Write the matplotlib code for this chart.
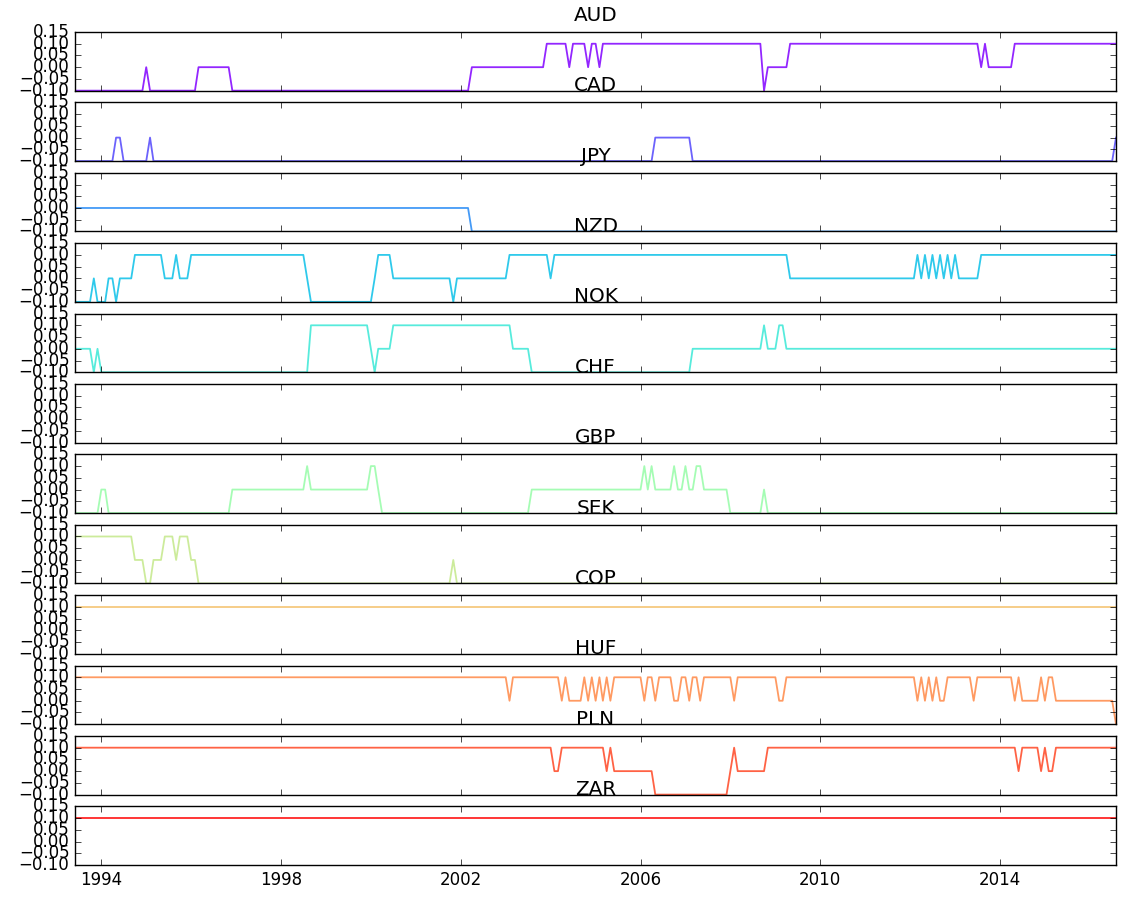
import numpy as np
import pandas as pd
import matplotlib
matplotlib.use('Agg')
from matplotlib import pyplot as plt
import matplotlib.dates as mdates

# monthly signal per currency, stored as (month, value) change points
AUD = [('1993-05', -0.1), ('1994-12', 0.0), ('1995-01', -0.1), ('1996-02', 0.0), ('1996-11', -0.1),
       ('2002-03', 0.0), ('2003-11', 0.1), ('2004-05', 0.0), ('2004-06', 0.1), ('2004-10', 0.0),
       ('2004-11', 0.1), ('2005-01', 0.0), ('2005-02', 0.1), ('2008-09', -0.1), ('2008-10', 0.0),
       ('2009-04', 0.1), ('2013-07', 0.0), ('2013-08', 0.1), ('2013-09', 0.0), ('2014-04', 0.1)]
CAD = [('1993-05', -0.1), ('1994-04', 0.0), ('1994-06', -0.1), ('1995-01', 0.0), ('1995-02', -0.1),
       ('2006-04', 0.0), ('2007-02', -0.1), ('2016-07', 0.0)]
JPY = [('1993-05', 0.0), ('2002-03', -0.1)]
NZD = [('1993-05', -0.1), ('1993-10', 0.0), ('1993-11', -0.1), ('1994-02', 0.0), ('1994-04', -0.1),
       ('1994-05', 0.0), ('1994-09', 0.1), ('1995-05', 0.0), ('1995-08', 0.1), ('1995-09', 0.0),
       ('1995-12', 0.1), ('1998-07', 0.0), ('1998-08', -0.1), ('2000-01', 0.0), ('2000-02', 0.1),
       ('2000-06', 0.0), ('2001-10', -0.1), ('2001-11', 0.0), ('2003-01', 0.1), ('2003-12', 0.0),
       ('2004-01', 0.1), ('2009-04', 0.0), ('2012-02', 0.1), ('2012-03', 0.0), ('2012-04', 0.1),
       ('2012-05', 0.0), ('2012-06', 0.1), ('2012-07', 0.0), ('2012-08', 0.1), ('2012-09', 0.0),
       ('2012-10', 0.1), ('2012-11', 0.0), ('2012-12', 0.1), ('2013-01', 0.0), ('2013-07', 0.1)]
NOK = [('1993-05', 0.0), ('1993-10', -0.1), ('1993-11', 0.0), ('1993-12', -0.1), ('1998-08', 0.1),
       ('1999-12', 0.0), ('2000-01', -0.1), ('2000-02', 0.0), ('2000-06', 0.1), ('2003-02', 0.0),
       ('2003-07', -0.1), ('2007-02', 0.0), ('2008-09', 0.1), ('2008-10', 0.0), ('2009-01', 0.1),
       ('2009-03', 0.0)]
CHF = []
GBP = [('1993-05', -0.1), ('1993-12', 0.0), ('1994-02', -0.1), ('1996-11', 0.0), ('1998-07', 0.1),
       ('1998-08', 0.0), ('1999-12', 0.1), ('2000-02', 0.0), ('2000-03', -0.1), ('2003-07', 0.0),
       ('2006-01', 0.1), ('2006-02', 0.0), ('2006-03', 0.1), ('2006-04', 0.0), ('2006-09', 0.1),
       ('2006-10', 0.0), ('2006-12', 0.1), ('2007-01', 0.0), ('2007-03', 0.1), ('2007-05', 0.0),
       ('2007-12', -0.1), ('2008-09', 0.0), ('2008-10', -0.1)]
SEK = [('1993-05', 0.1), ('1994-09', 0.0), ('1994-12', -0.1), ('1995-02', 0.0), ('1995-05', 0.1),
       ('1995-08', 0.0), ('1995-09', 0.1), ('1995-12', 0.0), ('1996-02', -0.1), ('2001-10', 0.0),
       ('2001-11', -0.1)]
COP = [('1993-05', 0.1)]
HUF = [('1993-05', 0.1), ('2003-01', 0.0), ('2003-02', 0.1), ('2004-03', 0.0), ('2004-04', 0.1),
       ('2004-05', 0.0), ('2004-09', 0.1), ('2004-10', 0.0), ('2004-11', 0.1), ('2004-12', 0.0),
       ('2005-01', 0.1), ('2005-02', 0.0), ('2005-03', 0.1), ('2005-04', 0.0), ('2005-05', 0.1),
       ('2006-01', 0.0), ('2006-02', 0.1), ('2006-04', 0.0), ('2006-05', 0.1), ('2006-09', 0.0),
       ('2006-11', 0.1), ('2007-01', 0.0), ('2007-02', 0.1), ('2007-04', 0.0), ('2007-05', 0.1),
       ('2008-01', 0.0), ('2008-02', 0.1), ('2009-01', 0.0), ('2009-03', 0.1), ('2012-02', 0.0),
       ('2012-03', 0.1), ('2012-04', 0.0), ('2012-05', 0.1), ('2012-06', 0.0), ('2012-07', 0.1),
       ('2012-08', 0.0), ('2012-10', 0.1), ('2013-05', 0.0), ('2013-06', 0.1), ('2014-04', 0.0),
       ('2014-05', 0.1), ('2014-06', 0.0), ('2014-11', 0.1), ('2014-12', 0.0), ('2015-01', 0.1),
       ('2015-03', 0.0), ('2016-07', -0.1)]
PLN = [('1993-05', 0.1), ('2004-01', 0.0), ('2004-03', 0.1), ('2005-03', 0.0), ('2005-04', 0.1),
       ('2005-05', 0.0), ('2006-04', -0.1), ('2007-12', 0.0), ('2008-01', 0.1), ('2008-02', 0.0),
       ('2008-10', 0.1), ('2014-05', 0.0), ('2014-06', 0.1), ('2014-11', 0.0), ('2014-12', 0.1),
       ('2015-01', 0.0), ('2015-03', 0.1)]
ZAR = [('1993-05', 0.1)]

names = ['AUD', 'CAD', 'JPY', 'NZD', 'NOK', 'CHF', 'GBP', 'SEK', 'COP', 'HUF', 'PLN', 'ZAR']
signals = [AUD, CAD, JPY, NZD, NOK, CHF, GBP, SEK, COP, HUF, PLN, ZAR]
tick_years = [1994, 1998, 2002, 2006, 2010, 2014]

months = pd.period_range('1993-05', '2016-07', freq='M')
dates = months.to_timestamp(how='end')


def to_series(points):
    s = pd.Series(np.nan, index=months)
    for m, v in points:
        s[pd.Period(m, freq='M')] = v
    return s.ffill()


if __name__ == '__main__':
    plt.style.use('classic')
    colors = plt.cm.rainbow(np.linspace(0, 1, len(names)))

    fig, axes = plt.subplots(len(names), 1, sharex=True, figsize=(11.21, 8.99), dpi=100)
    fig.subplots_adjust(left=75 / 1121, right=1116 / 1121, top=1 - 32 / 899,
                        bottom=1 - 865 / 899, hspace=0.2)

    for ax, name, pts, c in zip(axes, names, signals, colors):
        ax.plot(dates, to_series(pts).values, color=c, alpha=0.85, lw=1.3)
        ax.set_ylim(-0.1, 0.15)
        ax.set_title(name, pad=8)

    axes[-1].set_xlim(dates[0], dates[-1])
    axes[-1].set_xticks([pd.Timestamp(f'{y}-01-01') for y in tick_years])
    axes[-1].xaxis.set_major_formatter(mdates.DateFormatter('%Y'))

    fig.savefig('out.png', dpi=100)
